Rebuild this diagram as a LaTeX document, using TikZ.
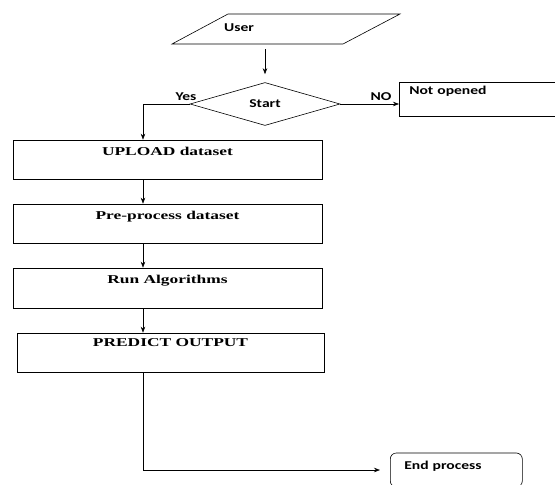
\documentclass[tikz,border=0pt]{standalone}
\usepackage{fontspec}
\usetikzlibrary{shapes.geometric,arrows.meta}
\newfontfamily\procfont[FakeStretch=1.45]{Liberation Serif}
\newfontfamily\tagfont[FakeStretch=1.3]{Carlito}

\begin{document}
\begin{tikzpicture}[x=1pt,y=-1pt,line width=0.6pt,
    arr/.style={-{Stealth[length=6pt,width=4.5pt]}},
    procbox/.style={draw,rectangle,inner sep=0pt,minimum width=309pt,text height=15pt,text depth=24pt,
        font=\procfont\bfseries\fontsize{12}{14}\selectfont},
    tag/.style={font=\tagfont\bfseries\fontsize{12}{14}\selectfont,inner sep=0pt},
    sidebox/.style={draw,rectangle,inner xsep=10pt,inner ysep=0pt,align=left,
        font=\tagfont\bfseries\fontsize{12}{14}\selectfont}]
            \useasboundingbox (0,0) rectangle (555,485);
            \clip (0,0) rectangle (555,485);
            \draw (172,44) coordinate (userfoot) -- (228,14) -- (400,14) -- (343,44) -- cycle;
            \node[tag] (user) at (239,28) {User};
            \node[draw,diamond,minimum width=150pt,minimum height=43pt,inner sep=0pt,font=\tagfont\bfseries\fontsize{12}{14}\selectfont] (start) at (265,104) {Start};
            \node[sidebox,anchor=north west,text width=160pt,text height=12pt,text depth=22pt] (notopen) at (399,82) {Not opened};
            \node[procbox] (upload) at (167.5,159.5) {UPLOAD dataset};
            \node[procbox] (prep) at (167.5,223.5) {Pre-process dataset};
            \node[procbox,text depth=25pt] (run) at (167.5,288) {Run Algorithms};
            \node[procbox,minimum width=307pt,text height=13pt,text depth=26pt] (predict) at (170.5,352.5) {PREDICT OUTPUT};
            \node[sidebox,rounded corners=6pt,anchor=west,inner xsep=14pt,text width=104pt,text height=16pt,text depth=18pt] (endp) at (390,470) {End process};
            \coordinate (spine) at (143,0);
            \coordinate (bend) at (143,470);
            \draw[arr,shorten >=8pt] ([yshift=-5pt]userfoot -| start.north) -- (start.north);
            \draw[arr] (start.west) -| (spine |- upload.north);
            \draw[arr] (start.east) -- (start.east -| notopen.west);
            \draw[arr] (spine |- upload.south) -- (spine |- prep.north);
            \draw[arr] (spine |- prep.south) -- (spine |- run.north);
            \draw[arr] (spine |- run.south) -- (spine |- predict.north);
            \draw[arr,shorten >=10pt] (spine |- predict.south) -- (bend) -- (endp.west);
            \node[tag] (yes) at (186,97) {Yes};
            \node[tag] (no) at (381,97) {NO};
        \end{tikzpicture}
\end{document}
